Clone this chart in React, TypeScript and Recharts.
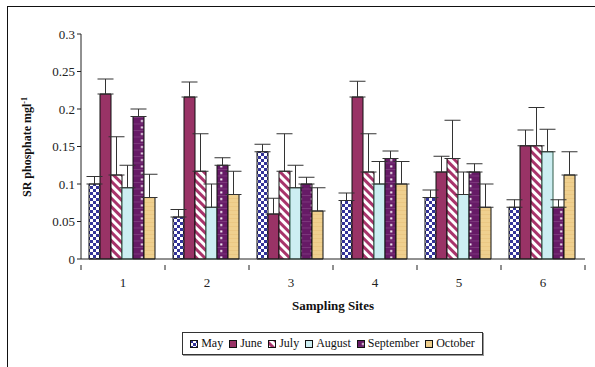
import { BarChart, Bar, XAxis, YAxis, ErrorBar, Legend } from "recharts";

const sites = ["1", "2", "3", "4", "5", "6"];
const months = ["May", "June", "July", "August", "September", "October"];

const may = [0.1, 0.056, 0.143, 0.078, 0.082, 0.069];
const june = [0.22, 0.216, 0.06, 0.216, 0.116, 0.151];
const july = [0.112, 0.117, 0.117, 0.116, 0.134, 0.151];
const august = [0.095, 0.069, 0.095, 0.1, 0.086, 0.143];
const september = [0.19, 0.125, 0.1, 0.134, 0.116, 0.069];
const october = [0.082, 0.086, 0.064, 0.1, 0.069, 0.112];

// upper error (sd) for each month
const mayErr = [0.01, 0.01, 0.01, 0.01, 0.01, 0.01];
const juneErr = [0.02, 0.02, 0.021, 0.021, 0.021, 0.021];
const julyErr = [0.051, 0.05, 0.05, 0.051, 0.051, 0.051];
const augustErr = [0.03, 0.031, 0.03, 0.03, 0.03, 0.03];
const septemberErr = [0.01, 0.01, 0.009, 0.01, 0.011, 0.01];
const octoberErr = [0.031, 0.031, 0.031, 0.03, 0.031, 0.031];

const yTicks = [0, 0.05, 0.1, 0.15, 0.2, 0.25, 0.3];

const series = [may, june, july, august, september, october];
const errors = [mayErr, juneErr, julyErr, augustErr, septemberErr, octoberErr];

const data = sites.map((site, i) => {
  const row: Record<string, any> = { site };
  months.forEach((m, k) => {
    row[m] = series[k][i];
    row[m + "Err"] = [0, errors[k][i]];
  });
  return row;
});

const fills: Record<string, string> = {
  May: "url(#pMay)",
  June: "#993366",
  July: "url(#pJuly)",
  August: "#cdeef2",
  September: "url(#pSep)",
  October: "url(#pOct)",
};

const strokes: Record<string, string> = {
  May: "#111",
  June: "#111",
  July: "#111",
  August: "#2f5a48",
  September: "#111",
  October: "#111",
};

const serif = "'Liberation Serif', 'Times New Roman', serif";

const W = 595;
const H = 367;
const plotLeft = 81;
const plotRight = 585;

function SiteTick(props: any) {
  const { x, y, payload, index } = props;
  const band = (plotRight - plotLeft) / sites.length;
  return (
    <g>
      <line x1={x - band / 2} y1={y - 2} x2={x - band / 2} y2={y + 3} stroke="#222" />
      {index === sites.length - 1 && (
        <line x1={x + band / 2} y1={y - 2} x2={x + band / 2} y2={y + 3} stroke="#222" />
      )}
      <text x={x} y={y + 20} textAnchor="middle" fontSize={13} fontFamily={serif} fill="#222">
        {payload.value}
      </text>
    </g>
  );
}

function YLabel() {
  return (
    <text
      transform="translate(31,147) rotate(-90)"
      textAnchor="middle"
      fontSize={12}
      fontWeight="bold"
      fontFamily={serif}
      fill="#111"
    >
      SR phosphate mgl
      <tspan dy={-4} fontSize={8}>-1</tspan>
    </text>
  );
}

function LegendBox() {
  return (
    <div
      style={{
        border: "1px solid #333",
        boxShadow: "1px 1px 0 #999",
        width: 299,
        height: 21,
        display: "flex",
        alignItems: "center",
        justifyContent: "center",
        gap: 6,
        fontFamily: serif,
        fontSize: 12,
        color: "#111",
        background: "#fff",
      }}
    >
      {months.map((m) => (
        <span key={m} style={{ display: "flex", alignItems: "center", gap: 3 }}>
          <svg width={8} height={8}>
            <rect x={0.5} y={0.5} width={7} height={7} fill={fills[m]} stroke="#111" />
          </svg>
          {m}
        </span>
      ))}
    </div>
  );
}

export default function App() {
  return (
    <div style={{ position: "absolute", left: 0, top: 0, width: W, height: H, background: "#fff" }}>
      <div
        style={{
          position: "absolute",
          left: 7,
          top: 6,
          width: W - 7,
          height: H - 6,
          borderTop: "1px solid #111",
          borderLeft: "1px solid #111",
        }}
      />
      <BarChart
        width={W}
        height={H}
        data={data}
        margin={{ top: 34, right: W - plotRight, bottom: 78, left: 0 }}
        barCategoryGap={8}
        barGap={0}
        style={{ position: "absolute", left: 0, top: 0 }}
      >
        <defs>
          <pattern id="pMay" width={6} height={6} patternUnits="userSpaceOnUse">
            <rect width={6} height={6} fill="#fff" />
            <rect width={3} height={3} fill="#333399" />
            <rect x={3} y={3} width={3} height={3} fill="#333399" />
          </pattern>
          <pattern
            id="pJuly"
            width={6}
            height={6}
            patternUnits="userSpaceOnUse"
            patternTransform="rotate(45)"
          >
            <rect width={6} height={6} fill="#fff" />
            <rect width={6} height={3} fill="#a8346b" />
          </pattern>
          <pattern id="pSep" width={11.33} height={6.5} patternUnits="userSpaceOnUse" x={0}>
            <rect width={11.33} height={6.5} fill="#661a66" />
            <line x1={0} y1={0.5} x2={11.33} y2={0.5} stroke="#8a4a8a" strokeWidth={0.6} />
            <rect x={5} y={3} width={2} height={2} fill="#fff" />
          </pattern>
          <pattern id="pOct" width={8} height={4} patternUnits="userSpaceOnUse">
            <rect width={8} height={4} fill="#efd08f" />
            <rect y={2} width={8} height={1} fill="#e6c27c" opacity={0.6} />
          </pattern>
        </defs>
        <XAxis
          dataKey="site"
          height={30}
          tickLine={false}
          axisLine={{ stroke: "#222" }}
          tick={<SiteTick />}
          interval={0}
          label={{
            value: "Sampling Sites",
            position: "insideBottom",
            offset: -21,
            fontFamily: serif,
            fontWeight: "bold",
            fontSize: 13,
            fill: "#111",
          }}
        />
        <YAxis
          width={plotLeft}
          domain={[0, 0.3]}
          ticks={yTicks}
          interval={0}
          tickSize={4}
          tickLine={{ stroke: "#222" }}
          axisLine={{ stroke: "#222" }}
          tick={{ fontFamily: serif, fontSize: 13, fill: "#222" }}
          label={<YLabel />}
        />
        <Legend
          layout="horizontal"
          verticalAlign="middle"
          align="center"
          wrapperStyle={{ position: "absolute", left: 182, top: 332, width: 301 }}
          content={() => <LegendBox />}
        />
        {months.map((m) => (
          <Bar
            key={m}
            dataKey={m}
            fill={fills[m]}
            stroke={strokes[m]}
            strokeWidth={1}
            isAnimationActive={false}
          >
            <ErrorBar dataKey={m + "Err"} width={8} stroke="#333" strokeWidth={1} direction="y" />
          </Bar>
        ))}
      </BarChart>
    </div>
  );
}
